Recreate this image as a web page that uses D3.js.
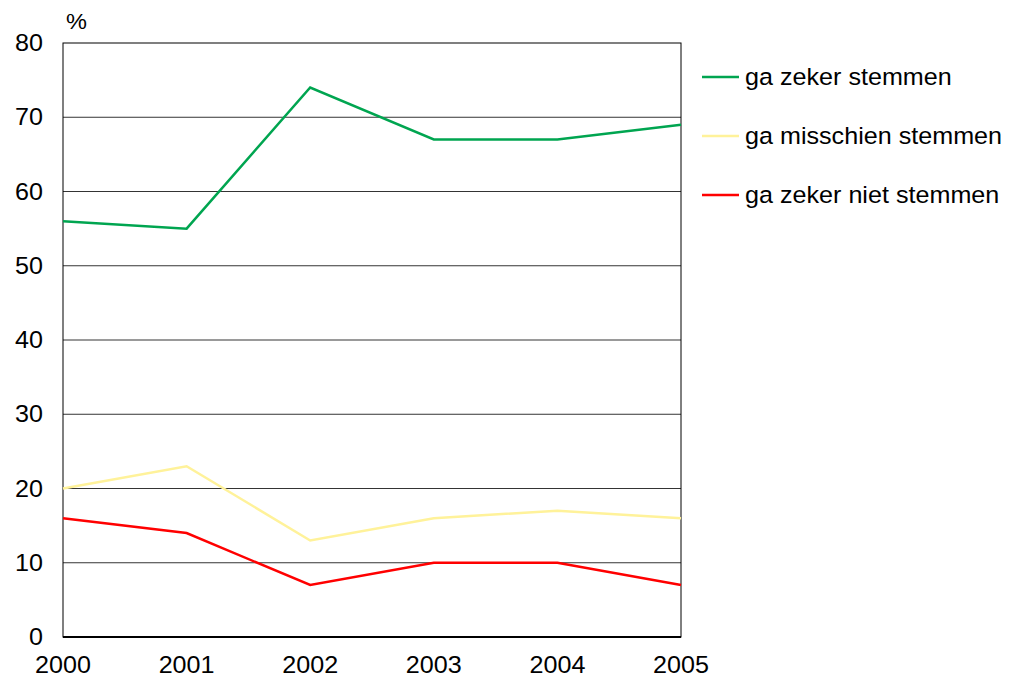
<!DOCTYPE html>
<html><head><meta charset="utf-8">
<script src="https://cdn.jsdelivr.net/npm/d3@7"></script>
<style>body{margin:0;background:#fff}svg{display:block}text{font-family:"Liberation Sans",Arial,sans-serif;fill:#000}</style>
</head><body>
<script>
const years = [2000, 2001, 2002, 2003, 2004, 2005];
const zekerStemmen = [56, 55, 74, 67, 67, 69];
const misschienStemmen = [20, 23, 13, 16, 17, 16];
const zekerNiet = [16, 14, 7, 10, 10, 7];
const seriesNames = ["ga zeker stemmen", "ga misschien stemmen", "ga zeker niet stemmen"];
const seriesColors = ["#00a550", "#fff29a", "#ff0000"];
const yTicks = [0, 10, 20, 30, 40, 50, 60, 70, 80];

const W = 1020, H = 679;
const L = 63, R = 681, T = 43, B = 637;
const FS = 23.5, SX = 1.07;
const svg = d3.select("body").append("svg").attr("width", W).attr("height", H);
const x = d3.scaleLinear().domain([2000, 2005]).range([L, R]);
const y = d3.scaleLinear().domain([0, 80]).range([B, T]);

// gridlines
svg.append("g").selectAll("line").data(yTicks.filter(d => d > 0 && d < 80)).join("line")
  .attr("x1", L).attr("x2", R).attr("y1", d => y(d)).attr("y2", d => y(d))
  .attr("stroke", "#000").attr("stroke-width", 0.8);
// frame
svg.append("rect").attr("x", L).attr("y", T).attr("width", R - L).attr("height", B - T)
  .attr("fill", "none").attr("stroke", "#000").attr("stroke-width", 1);

// y axis labels
svg.append("g").selectAll("text").data(yTicks).join("text")
  .attr("transform", d => `translate(43,${y(d)}) scale(${SX},1)`)
  .attr("dy", "0.35em").attr("text-anchor", "end")
  .attr("font-size", FS).text(d => d);
svg.append("text").attr("transform", "translate(66,29) scale(1.07,1)").attr("font-size", 22).text("%");

// x axis
svg.append("line").attr("x1", L).attr("x2", R).attr("y1", B).attr("y2", B)
  .attr("stroke", "#000").attr("stroke-width", 2);
svg.append("g").selectAll("text").data(years).join("text")
  .attr("transform", d => `translate(${x(d)},673) scale(${SX},1)`)
  .attr("text-anchor", "middle")
  .attr("font-size", FS).text(d => d);

const data = [zekerStemmen, misschienStemmen, zekerNiet];
const line = d3.line().x((d, i) => x(years[i])).y(d => y(d));
svg.append("g").selectAll("path").data(data).join("path")
  .attr("d", line).attr("fill", "none")
  .attr("stroke", (d, i) => seriesColors[i]).attr("stroke-width", 2.5)
  .attr("stroke-linejoin", "miter");

// legend
const lg = svg.append("g").selectAll("g").data(seriesNames).join("g")
  .attr("transform", (d, i) => `translate(702, ${77 + i * 59})`);
lg.append("line").attr("x1", 0).attr("x2", 37).attr("y1", 0).attr("y2", 0)
  .attr("stroke", (d, i) => seriesColors[i]).attr("stroke-width", 2.5);
lg.append("text").attr("transform", `translate(43,0) scale(${SX},1)`).attr("dy", "0.35em")
  .attr("font-size", FS).text(d => d);
</script>
</body></html>
